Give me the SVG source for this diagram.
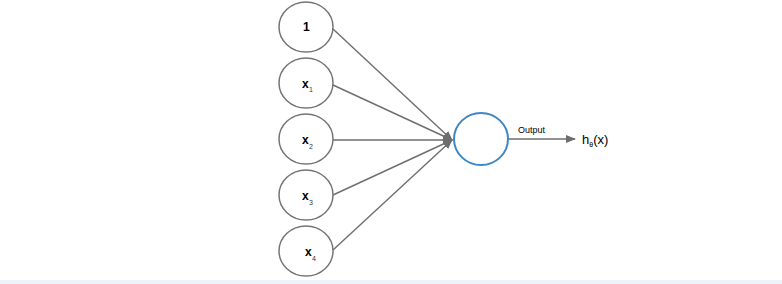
<svg xmlns="http://www.w3.org/2000/svg" width="782" height="284" viewBox="0 0 782 284">
<style>
.in{fill:#fff;stroke:#757575;stroke-width:1.5}
.out{fill:#fff;stroke:#3d87c4;stroke-width:2}
.e{stroke:#6e6e6e;stroke-width:1.4;fill:none}
text{font-family:"Liberation Sans",Arial,sans-serif;fill:#000}
.lbl{font-size:12px;font-weight:bold}
.sub{font-size:7px;fill:#334}
</style>
<defs>
<marker id="ah" markerWidth="10" markerHeight="8" refX="9" refY="4" orient="auto" markerUnits="userSpaceOnUse">
<path d="M0,0 L10,4 L0,8 Z" fill="#6e6e6e"/>
</marker>
</defs>
<rect x="0" y="280" width="782" height="4" fill="#eef3fb"/>
<g id="connectors">
<line class="e" x1="333" y1="29" x2="452" y2="140" marker-end="url(#ah)"/>
<line class="e" x1="333" y1="85" x2="452" y2="140" marker-end="url(#ah)"/>
<line class="e" x1="333" y1="140" x2="452" y2="140" marker-end="url(#ah)"/>
<line class="e" x1="333" y1="195" x2="452" y2="140" marker-end="url(#ah)"/>
<line class="e" x1="333" y1="250" x2="452" y2="140" marker-end="url(#ah)"/>
<line class="e" x1="508" y1="139" x2="575" y2="139" marker-end="url(#ah)"/>
<text x="518" y="133" font-size="9">Output</text>
</g>
<g id="n1"><ellipse class="in" cx="306" cy="27" rx="27" ry="25"/><text class="lbl" x="303" y="31">1</text></g>
<g id="nx1"><ellipse class="in" cx="306" cy="83" rx="27" ry="25"/><text class="lbl" x="302" y="88">x</text><text class="sub" x="309" y="92">1</text></g>
<g id="nx2"><ellipse class="in" cx="306" cy="139" rx="27" ry="25"/><text class="lbl" x="302" y="144">x</text><text class="sub" x="309" y="149">2</text></g>
<g id="nx3"><ellipse class="in" cx="306" cy="195" rx="27" ry="25"/><text class="lbl" x="302" y="200">x</text><text class="sub" x="309" y="205">3</text></g>
<g id="nx4"><ellipse class="in" cx="306" cy="251" rx="27" ry="25"/><text class="lbl" x="305" y="256">x</text><text class="sub" x="312" y="261">4</text></g>
<g id="out"><ellipse class="out" cx="481" cy="139" rx="27" ry="26"/></g>
<g id="h"><text x="582" y="144" font-size="13">h<tspan font-size="7" dy="3">θ</tspan><tspan dy="-3">(x)</tspan></text></g>
</svg>
